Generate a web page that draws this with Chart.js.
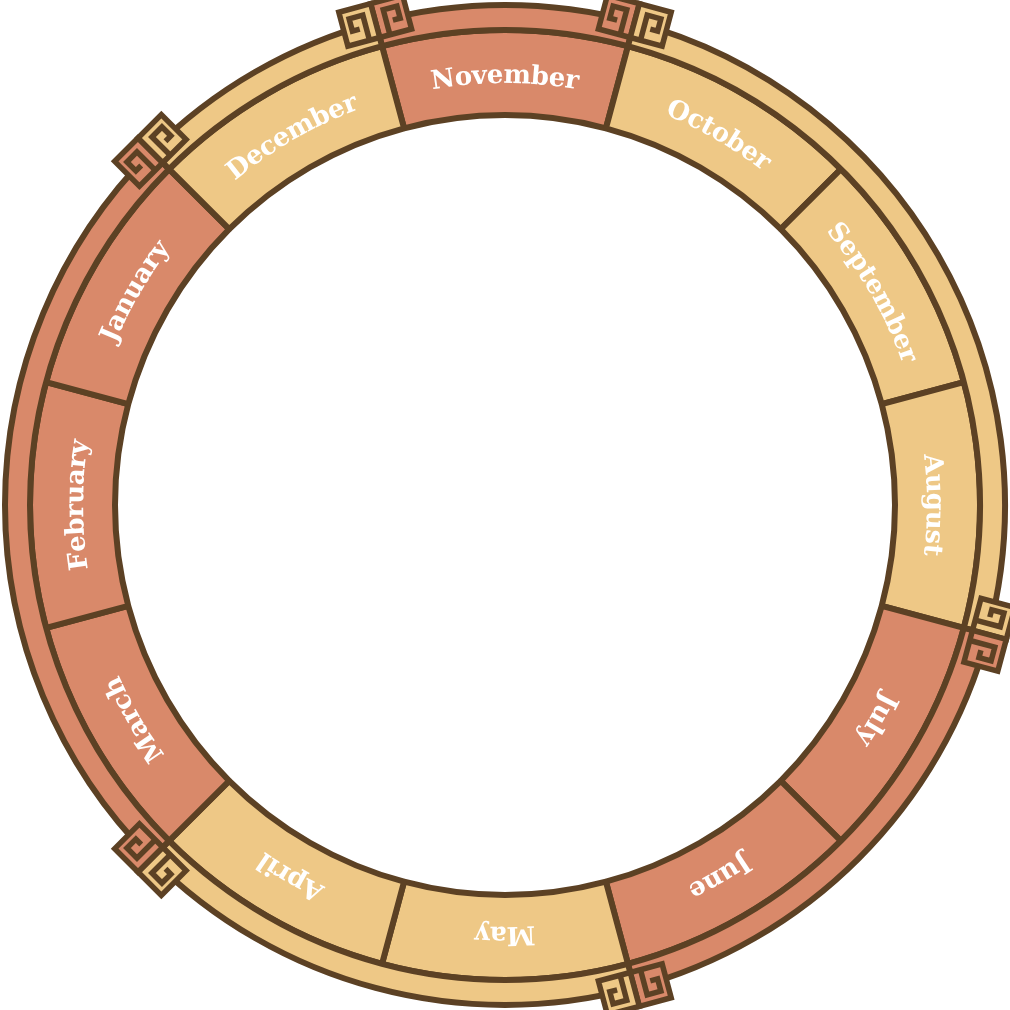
<!DOCTYPE html>
<html>
<head>
<meta charset="utf-8">
<script src="https://cdn.jsdelivr.net/npm/chart.js@4.4.0/dist/chart.umd.min.js"></script>
<style>
  html, body { margin: 0; padding: 0; background: #fff; }
  #wrap { width: 1010px; height: 1010px; }
</style>
</head>
<body>
<div id="wrap"><canvas id="wheel"></canvas></div>
<script>
const ORANGE = '#D9896A';
const TAN = '#EEC886';
const BROWN = '#5C4124';

// months, clockwise from 12 o'clock (November is centred on top)
const months = ['November', 'October', 'September', 'August', 'July', 'June',
                'May', 'April', 'March', 'February', 'January', 'December'];
const monthSpan = [1, 1, 1, 1, 1, 1, 1, 1, 1, 1, 1, 1];
const monthColors = [ORANGE, TAN, TAN, TAN, ORANGE, ORANGE,
                     TAN, TAN, ORANGE, ORANGE, ORANGE, TAN];

// outer band: runs of months, same order
const groups = ['Nov', 'Aug-Oct', 'Jun-Jul', 'Apr-May', 'Jan-Mar', 'Dec'];
const groupSpan = [1, 3, 2, 2, 3, 1];
const groupColors = [ORANGE, TAN, ORANGE, TAN, ORANGE, TAN];

// little meander key sitting on a band boundary
function drawKey(ctx, cx, cy, a, dir, R, color) {
  const W = 33, r0 = R - 16, H = 35;
  const ux = Math.cos(a), uy = Math.sin(a);
  const vx = -Math.sin(a) * dir, vy = Math.cos(a) * dir;
  const pt = (t, s) => [cx + ux * (r0 + s * H) + vx * t * W,
                        cy + uy * (r0 + s * H) + vy * t * W];
  const trace = (list) => list.forEach((q, k) => {
    const p = pt(q[0], q[1]);
    k ? ctx.lineTo(p[0], p[1]) : ctx.moveTo(p[0], p[1]);
  });
  ctx.save();
  ctx.lineWidth = 5.5;
  ctx.lineJoin = 'miter';
  ctx.strokeStyle = BROWN;
  ctx.fillStyle = color;
  ctx.beginPath();
  trace([[0, 0], [1, 0], [1, 1], [0, 1]]);
  ctx.closePath();
  ctx.fill();
  ctx.stroke();
  ctx.beginPath();
  trace([[0.32, 0.06], [0.32, 0.74], [0.75, 0.74], [0.75, 0.38], [0.52, 0.38]]);
  ctx.stroke();
  ctx.restore();
}

const wheelDecor = {
  id: 'wheelDecor',
  afterDatasetsDraw(chart) {
    const ctx = chart.ctx;

    chart.getDatasetMeta(0).data.forEach((arc, i) => {
      const p = arc.getProps(['x', 'y', 'startAngle', 'endAngle', 'outerRadius'], true);
      drawKey(ctx, p.x, p.y, p.startAngle, 1, p.outerRadius, groupColors[i]);
      drawKey(ctx, p.x, p.y, p.endAngle, -1, p.outerRadius, groupColors[i]);
    });

    // month names bent along the ring
    ctx.save();
    ctx.font = 'bold 26px "DejaVu Serif"';
    ctx.fillStyle = '#ffffff';
    ctx.textAlign = 'center';
    ctx.textBaseline = 'alphabetic';
    const gap = 0;
    chart.getDatasetMeta(1).data.forEach((arc, i) => {
      const p = arc.getProps(['x', 'y', 'startAngle', 'endAngle', 'innerRadius', 'outerRadius'], true);
      const rm = (p.innerRadius + p.outerRadius) / 2 - 1;
      const chars = months[i].split('');
      const widths = chars.map(c => ctx.measureText(c).width);
      const total = widths.reduce((s, w) => s + w, 0) + gap * (chars.length - 1);
      let ang = (p.startAngle + p.endAngle) / 2 - total / 2 / rm;
      chars.forEach((c, k) => {
        const th = ang + widths[k] / 2 / rm;
        ctx.save();
        ctx.translate(p.x + rm * Math.cos(th), p.y + rm * Math.sin(th));
        ctx.rotate(th + Math.PI / 2);
        ctx.fillText(c, 0, 9.5);
        ctx.restore();
        ang += (widths[k] + gap) / rm;
      });
    });
    ctx.restore();
  }
};

new Chart(document.getElementById('wheel'), {
  type: 'doughnut',
  data: {
    labels: months,
    datasets: [{
      label: 'groups',
      data: groupSpan,
      backgroundColor: groupColors,
      borderColor: BROWN,
      borderWidth: 6,
      hoverBorderWidth: 6,
      weight: 25
    }, {
      label: 'months',
      data: monthSpan,
      backgroundColor: monthColors,
      borderColor: BROWN,
      borderWidth: 6,
      hoverBorderWidth: 6,
      weight: 85
    }]
  },
  options: {
    responsive: true,
    maintainAspectRatio: false,
    animation: false,
    events: [],
    rotation: -15,
    cutout: 390,
    hoverOffset: 0,
    layout: { padding: 2 },
    plugins: {
      legend: { display: false },
      tooltip: { enabled: false }
    }
  },
  plugins: [wheelDecor]
});
</script>
</body>
</html>
